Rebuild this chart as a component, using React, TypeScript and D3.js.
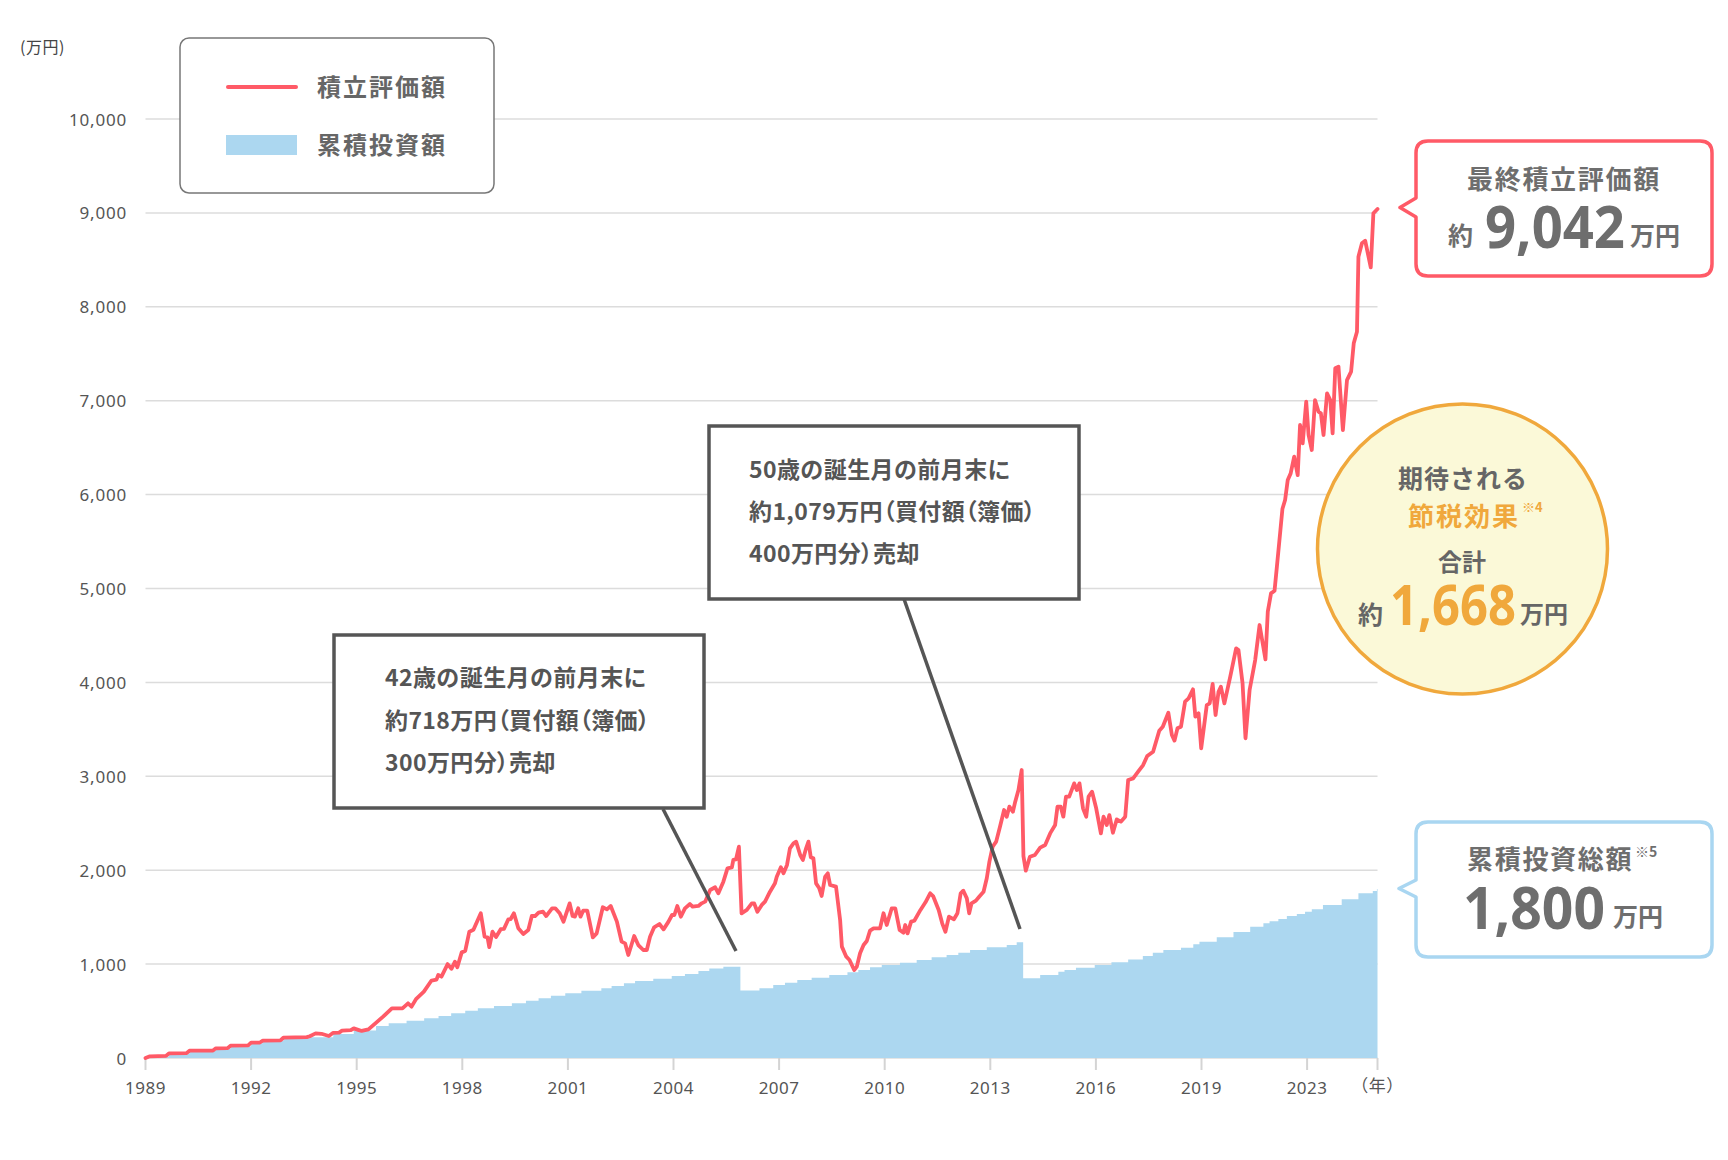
import React from "react";
import { scaleLinear, line, area, curveStepAfter, curveLinear, format } from "d3";

// month index from Jan 1989, value in 万円
const valuePre2006 = [
  [0, 0], [1.5, 18], [7, 22], [8, 50], [14, 52], [15, 78], [23, 80], [24, 103], [28, 105], [29, 131],
  [35, 135], [36, 163], [39, 165], [40, 185], [46, 188], [47, 216], [55, 222], [56, 232], [58, 262],
  [60, 258], [62.5, 234], [64, 268], [66, 270], [67, 291], [70, 296], [71, 316], [72.5, 300], [73.7, 288],
  [76, 305], [81, 440], [84, 529], [87.6, 529], [89.5, 582], [90.7, 547], [92.3, 630], [94.9, 707],
  [97.5, 825], [99.2, 835], [99.8, 884], [100.9, 866], [103, 1000], [104.3, 950], [105.5, 1026],
  [106.3, 966], [107.8, 1125], [109, 1140], [110.4, 1345], [111.8, 1365], [114.3, 1541], [115.6, 1292],
  [116.6, 1285], [117.2, 1180], [118.3, 1345], [119.5, 1288], [121.1, 1372], [122.2, 1375], [123.7, 1477],
  [124.5, 1480], [125.6, 1541], [127.1, 1381], [128.8, 1320], [130.5, 1363], [131.7, 1512], [132.8, 1512],
  [134, 1548], [135.5, 1558], [136.6, 1512], [138.6, 1594], [139.7, 1594], [141.2, 1541], [142.5, 1452],
  [144.6, 1647], [145.6, 1512], [146.4, 1505], [147.5, 1594], [148.3, 1505], [149.2, 1569], [150.6, 1569],
  [152.5, 1285], [153.8, 1327], [155.9, 1605], [157.3, 1583], [158.6, 1619], [160.7, 1452], [162.3, 1239],
  [163.5, 1221], [164.6, 1097], [166.6, 1299], [168, 1203], [169.7, 1150], [170.9, 1150], [172, 1292],
  [173.4, 1392], [175.2, 1427], [176.6, 1370], [178.3, 1452], [179.5, 1523], [180.3, 1523], [181.3, 1619],
  [182.5, 1505], [183.9, 1594], [185.6, 1640], [186.5, 1612], [188.5, 1619], [189.6, 1647], [190.8, 1665],
  [192.5, 1789], [194.2, 1818], [195.3, 1754], [197, 1878], [198.4, 2020], [199.9, 2031], [200.4, 2109],
  [201.3, 2116], [202.3, 2250],
];

const value2006to2013 = [
  [203.2, 1541], [205, 1577], [206.7, 1647], [207.5, 1647], [208.6, 1558], [210.1, 1630], [211.2, 1665],
  [212.9, 1771], [214.6, 1860], [215.2, 1931], [216.6, 2031], [217.5, 1967], [218.7, 2056], [219.7, 2233],
  [220.9, 2286], [221.8, 2304], [223.2, 2162], [224.1, 2109], [225.2, 2233], [226, 2304], [226.8, 2137],
  [227.7, 2126], [228.6, 1860], [229.7, 1807], [230.5, 1725], [231.7, 1931], [232.6, 1967], [233.4, 1842],
  [235.4, 1825], [236.8, 1470], [237.4, 1186], [238.9, 1079], [240, 1044], [241.6, 937], [242.5, 973],
  [243.6, 1115], [244.8, 1203], [245.9, 1246], [247, 1356], [248.2, 1381], [250.4, 1381], [251.6, 1541],
  [252.7, 1416], [254.4, 1594], [255.6, 1594], [257.1, 1363], [258.4, 1334], [259, 1416], [259.8, 1327],
  [261, 1452], [262.1, 1462], [264.2, 1577], [265.9, 1658], [267.5, 1754], [268.5, 1725], [270.4, 1577],
  [271.6, 1434], [272.7, 1345], [273.9, 1505], [275.6, 1477], [276.8, 1541], [277.9, 1754], [278.8, 1782],
  [280, 1700], [280.8, 1541], [281.6, 1647], [283.1, 1676], [284.2, 1718], [285.7, 1771], [286.8, 1914],
  [287.7, 2091], [288.8, 2250], [290, 2304], [291.3, 2463], [292.7, 2641], [293.6, 2570], [294.5, 2677],
  [295.7, 2623], [296.5, 2730], [297.6, 2854], [298.7, 3067],
];

const valuePost2014 = [
  [299.3, 2150], [300.1, 1995], [301.5, 2144], [303.2, 2162], [305, 2240], [306.7, 2268], [308.4, 2392],
  [310.1, 2481], [310.9, 2676], [312, 2676], [312.9, 2570], [313.8, 2783], [314.9, 2783], [316.6, 2925],
  [317.5, 2854], [318.4, 2925], [319.6, 2659], [320.7, 2570], [321.5, 2783], [322.7, 2836], [324.1, 2659],
  [325.7, 2392], [326.6, 2570], [327.7, 2481], [328.6, 2587], [329.8, 2399], [331.1, 2541], [332.5, 2517],
  [334, 2570], [335, 2961], [336.7, 2978], [338.4, 3049], [340.1, 3120], [341.5, 3216], [343.5, 3262],
  [345.6, 3486], [346.8, 3528], [348.7, 3677], [349.9, 3440], [350.8, 3380], [351.8, 3511], [353, 3528],
  [354.4, 3795], [355.6, 3830], [357.1, 3926], [357.9, 3635], [359, 3670], [359.9, 3298], [361.8, 3759],
  [362.8, 3777], [363.8, 3983], [364.8, 3653], [365.8, 3901], [366.6, 3954], [367.8, 3777], [369.8, 4061],
  [371.8, 4363], [372.6, 4345], [374, 3990], [375, 3405], [376.4, 3919], [378.3, 4238], [379.8, 4611],
  [381.8, 4245], [382.6, 4753], [383.7, 4948], [384.9, 4976], [385.7, 5232], [386.9, 5622], [387.6, 5850],
  [388.5, 5943], [389.4, 6155], [390.4, 6226], [391.6, 6404], [392.8, 6208], [393.6, 6741], [394.5, 6546],
  [395.7, 6989], [396.5, 6635], [397.6, 6475], [398.7, 7007], [399.9, 6883], [400.7, 6865], [401.6, 6635],
  [402.8, 7078], [403.9, 7007], [404.7, 6652], [405.6, 7345], [406.7, 7362], [408.2, 6688], [409.6, 7220],
  [411, 7309], [411.9, 7611], [413, 7735], [413.5, 8534], [414.7, 8676], [415.8, 8704], [417.7, 8420],
  [418.6, 8996], [420, 9042],
];

// cumulative invested amount, step values (holds until next point)
const investedSteps = [
  [0, 0], [1.5, 16], [8, 46], [15, 74], [24, 98], [29, 126], [36, 158], [40, 180], [47, 210], [56, 222],
  [64, 255], [71, 292], [78.6, 341], [82.9, 369], [89, 398], [95, 423], [99.9, 447], [104.2, 476], [109, 504],
  [113.3, 529], [118.8, 554], [124.9, 582], [129.7, 611], [134, 636], [138.2, 664], [143.1, 689], [148.6, 717],
  [155.4, 742], [158.9, 767], [163.1, 795], [166.9, 820], [173.1, 845], [179.4, 873], [183.9, 895],
  [188.5, 927], [192.2, 952], [197, 973], [202.8, 720], [209.3, 742], [214, 777], [218, 802], [222.2, 831],
  [227.1, 855], [233.1, 884], [239.3, 912], [243, 937], [247, 966], [251, 990], [257.2, 1015], [262.9, 1044],
  [268, 1072], [273.1, 1097], [277.1, 1122], [281.1, 1150], [286.8, 1179], [293.6, 1203], [297, 1232],
  [299.2, 850], [305, 884], [311.2, 919], [313.3, 937], [317.2, 962], [323.6, 990], [329.3, 1020],
  [335, 1050], [340, 1085], [343.4, 1122], [347, 1150], [353, 1175], [357.2, 1211], [359.3, 1239],
  [365.2, 1285], [370.9, 1342], [376.6, 1399], [381.1, 1434], [383.2, 1456], [386.2, 1480], [389.1, 1512],
  [392.5, 1534], [395.3, 1558], [397.6, 1583], [401.4, 1629], [407.8, 1690], [413.5, 1754], [418.4, 1779],
  [419.8, 1800], [420, 1800],
];

const yTicks = [0, 1000, 2000, 3000, 4000, 5000, 6000, 7000, 8000, 9000, 10000];
const xTickMonths = [0, 36, 72, 108, 144, 180, 216, 252, 288, 324, 360, 396, 420];
const xTickLabels = ["1989", "1992", "1995", "1998", "2001", "2004", "2007", "2010", "2013", "2016", "2019", "2023", "（年）"];

const note42 = ["42歳の誕生月の前月末に", "約718万円（買付額（簿価）", "300万円分）売却"];
const note50 = ["50歳の誕生月の前月末に", "約1,079万円（買付額（簿価）", "400万円分）売却"];

const RED = "#ff5a67";
const BLUE = "#acd7f0";
const BLUE_LINE = "#a9d6f1";
const ORANGE = "#f0a83c";
const JP = "'Noto Sans CJK JP', 'Noto Sans', sans-serif";
const NUM = "'Noto Sans', 'Noto Sans CJK JP', sans-serif";

// full-width brackets drawn with proportional width, like the original
const Tight = ({ s }) => (
  <>
    {s.split(/([（）])/).filter((p) => p !== "").map((p, i) =>
      p === "（" || p === "）" ? (
        <tspan key={i} style={{ fontFeatureSettings: '"palt"' }}>{p}</tspan>
      ) : (
        <tspan key={i}>{p}</tspan>
      )
    )}
  </>
);

export default function App() {
  const width = 1728;
  const height = 1160;
  const x = scaleLinear().domain([0, 420]).range([145.5, 1377.5]);
  const y = scaleLinear().domain([0, 10000]).range([1058, 119]);
  const fmt = format(",");

  const valueSeries = [...valuePre2006, ...value2006to2013, ...valuePost2014];
  const valueLine = line().x((d) => x(d[0])).y((d) => y(d[1])).curve(curveLinear);
  const investedArea = area()
    .x((d) => x(d[0]))
    .y0(y(0))
    .y1((d) => y(d[1]))
    .curve(curveStepAfter);

  return (
    <svg width={width} height={height} style={{ position: "absolute", left: 0, top: 0, background: "#fff" }}>
      {/* grid */}
      <g>
        {yTicks.map((t) => (
          <line key={t} x1={x(0)} x2={x(420)} y1={y(t)} y2={y(t)} stroke="#dcdcdc" strokeWidth={1.5} />
        ))}
      </g>
      {/* y labels */}
      <g fontFamily={NUM} fontSize={17} fill="#555" letterSpacing={0.8}>
        {yTicks.map((t) => (
          <text key={t} x={127} y={y(t)} textAnchor="end" dominantBaseline="central">{fmt(t)}</text>
        ))}
      </g>
      <text x={20} y={46} fontFamily={JP} fontSize={16} fill="#444" dominantBaseline="central" letterSpacing={0.5}>(万円)</text>

      {/* invested area */}
      <path d={investedArea(investedSteps)} fill={BLUE} />

      {/* x ticks */}
      <g>
        {xTickMonths.map((m, i) => (
          <g key={m}>
            <line x1={x(m)} x2={x(m)} y1={y(0)} y2={y(0) + 12} stroke="#d4d4d4" strokeWidth={2} />
            <text x={x(m)} y={i === xTickLabels.length - 1 ? 1084 : 1087} textAnchor="middle" dominantBaseline="central"
              fontFamily={i === xTickLabels.length - 1 ? JP : NUM} fontSize={17} fill="#555" letterSpacing={0.5}>
              {xTickLabels[i]}
            </text>
          </g>
        ))}
      </g>

      {/* value line */}
      <path d={valueLine(valueSeries)} fill="none" stroke={RED} strokeWidth={3.8} strokeLinejoin="round" strokeLinecap="round" />

      {/* legend */}
      <rect x={180} y={38} width={314} height={155} rx={9} fill="#fff" stroke="#777" strokeWidth={1.5} />
      <line x1={228} x2={296} y1={87} y2={87} stroke={RED} strokeWidth={4} strokeLinecap="round" />
      <rect x={226} y={135} width={71} height={20} fill={BLUE} />
      <g fontFamily={JP} fontSize={24} fontWeight={700} fill="#666" letterSpacing={2}>
        <text x={317} y={85} dominantBaseline="central">積立評価額</text>
        <text x={317} y={143} dominantBaseline="central">累積投資額</text>
      </g>

      {/* annotation 42 */}
      <line x1={663} y1={809} x2={736} y2={951} stroke="#555" strokeWidth={3.5} />
      <rect x={334} y={635} width={370} height={173} fill="#fff" stroke="#555" strokeWidth={3.5} />
      <g fontFamily={JP} fontSize={23} fontWeight={700} fill="#555" letterSpacing={0.4}>
        {note42.map((s, i) => (
          <text key={i} x={385} y={676 + i * 42.5} dominantBaseline="central"><Tight s={s} /></text>
        ))}
      </g>

      {/* annotation 50 */}
      <line x1={904} y1={599} x2={1020} y2={929} stroke="#555" strokeWidth={3.5} />
      <rect x={709} y={426} width={370} height={173} fill="#fff" stroke="#555" strokeWidth={3.5} />
      <g fontFamily={JP} fontSize={23} fontWeight={700} fill="#555" letterSpacing={0.4}>
        {note50.map((s, i) => (
          <text key={i} x={749} y={468 + i * 42} dominantBaseline="central"><Tight s={s} /></text>
        ))}
      </g>

      {/* final value callout */}
      <path
        d="M1428,141 H1700 Q1712,141 1712,153 V264 Q1712,276 1700,276 H1428 Q1416,276 1416,264 V217 L1400,207.5 L1416,198 V153 Q1416,141 1428,141 Z"
        fill="#fff" stroke={RED} strokeWidth={3.5} strokeLinejoin="round" />
      <g fontFamily={JP} fontWeight={700} fill="#6e6e6e">
        <text x={1467} y={177} fontSize={26} letterSpacing={1.7} dominantBaseline="central">最終積立評価額</text>
        <text x={1448} y={234} fontSize={25} dominantBaseline="central">約</text>
        <text x={1485} y={225} fontSize={60} fontFamily={NUM} dominantBaseline="central" textLength={140} lengthAdjust="spacingAndGlyphs">9,042</text>
        <text x={1630} y={234} fontSize={25} dominantBaseline="central">万円</text>
      </g>

      {/* tax circle */}
      <circle cx={1462.5} cy={549} r={145} fill="#fbf9d8" stroke={ORANGE} strokeWidth={3.5} />
      <g fontFamily={JP} fontWeight={700}>
        <text x={1398} y={477} fontSize={25} letterSpacing={1} fill="#666" dominantBaseline="central">期待される</text>
        <text x={1408} y={514} fontSize={26} letterSpacing={2} fill={ORANGE} dominantBaseline="central">節税効果</text>
        <text x={1522} y={506} fontSize={13} fill={ORANGE} dominantBaseline="central">※4</text>
        <text x={1438} y={560} fontSize={24} fill="#666" dominantBaseline="central">合計</text>
        <text x={1358} y={613} fontSize={25} fill="#666" dominantBaseline="central">約</text>
        <text x={1390} y={603} fontSize={56} fontFamily={NUM} fill={ORANGE} dominantBaseline="central" textLength={126} lengthAdjust="spacingAndGlyphs">1,668</text>
        <text x={1520} y={612} fontSize={24} fill="#666" dominantBaseline="central">万円</text>
      </g>

      {/* invested total callout */}
      <path
        d="M1428,822 H1700 Q1712,822 1712,834 V945 Q1712,957 1700,957 H1428 Q1416,957 1416,945 V897 L1399,888.5 L1416,880 V834 Q1416,822 1428,822 Z"
        fill="#fff" stroke={BLUE_LINE} strokeWidth={3.5} strokeLinejoin="round" />
      <g fontFamily={JP} fontWeight={700} fill="#6e6e6e">
        <text x={1467} y={857} fontSize={26} letterSpacing={1.7} dominantBaseline="central">累積投資総額</text>
        <text x={1635} y={851} fontSize={14} dominantBaseline="central">※5</text>
        <text x={1463} y={906} fontSize={60} fontFamily={NUM} dominantBaseline="central" textLength={142} lengthAdjust="spacingAndGlyphs">1,800</text>
        <text x={1613} y={915} fontSize={25} dominantBaseline="central">万円</text>
      </g>
    </svg>
  );
}
